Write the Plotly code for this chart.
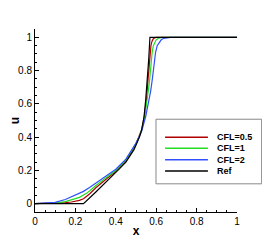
import plotly.graph_objects as go

# Reference solution
x_ref = [0.0, 0.24, 0.30, 0.35, 0.40, 0.42, 0.45, 0.47, 0.49, 0.503, 0.517, 0.528, 0.540, 0.548, 0.556, 0.563, 0.569, 1.0]
u_ref = [0.0, 0.0, 0.069, 0.127, 0.186, 0.212, 0.250, 0.285, 0.325, 0.360, 0.400, 0.444, 0.524, 0.624, 0.744, 0.870, 1.0, 1.0]

# CFL = 0.5
x_c05 = [0.0, 0.10, 0.15, 0.18, 0.20, 0.22, 0.24, 0.255, 0.27, 0.285, 0.30, 0.35, 0.40, 0.45, 0.47, 0.50, 0.515, 0.528, 0.541, 0.553, 0.560, 0.566, 0.570, 0.574, 0.579, 0.585, 0.592, 0.60, 1.0]
u_c05 = [0.0, 0.002, 0.006, 0.010, 0.014, 0.020, 0.030, 0.042, 0.058, 0.076, 0.094, 0.145, 0.194, 0.258, 0.295, 0.360, 0.400, 0.444, 0.524, 0.640, 0.750, 0.850, 0.910, 0.950, 0.975, 0.990, 0.997, 1.0, 1.0]

# CFL = 1
x_c1 = [0.0, 0.10, 0.15, 0.18, 0.20, 0.22, 0.24, 0.255, 0.27, 0.285, 0.30, 0.35, 0.40, 0.45, 0.47, 0.50, 0.515, 0.528, 0.543, 0.556, 0.561, 0.568, 0.574, 0.580, 0.586, 0.593, 0.60, 0.612, 0.627, 1.0]
u_c1 = [0.0, 0.004, 0.012, 0.021, 0.030, 0.038, 0.050, 0.062, 0.076, 0.092, 0.108, 0.155, 0.199, 0.262, 0.300, 0.362, 0.400, 0.444, 0.524, 0.624, 0.680, 0.750, 0.850, 0.910, 0.950, 0.972, 0.985, 0.995, 1.0, 1.0]

# CFL = 2
x_c2 = [0.0, 0.05, 0.10, 0.15, 0.20, 0.24, 0.27, 0.30, 0.35, 0.40, 0.45, 0.47, 0.50, 0.515, 0.529, 0.548, 0.566, 0.573, 0.581, 0.589, 0.597, 0.605, 0.615, 0.625, 0.637, 0.65, 0.67, 1.0]
u_c2 = [0.0, 0.002, 0.008, 0.025, 0.050, 0.074, 0.098, 0.124, 0.165, 0.207, 0.268, 0.305, 0.365, 0.400, 0.440, 0.524, 0.624, 0.680, 0.750, 0.850, 0.910, 0.950, 0.972, 0.985, 0.994, 0.998, 1.0, 1.0]

names = ["CFL=0.5", "CFL=1", "CFL=2", "Ref"]
colors = ["#b00000", "#22dd22", "#3050ff", "#000000"]
xs_all = [x_c05, x_c1, x_c2, x_ref]
us_all = [u_c05, u_c1, u_c2, u_ref]

FONT = "Liberation Sans, Arial"

fig = go.Figure()
for name, xs, us, col in zip(names, xs_all, us_all, colors):
    fig.add_trace(go.Scatter(x=xs, y=us, mode="lines", name=name,
                             line=dict(color=col, width=1.2), showlegend=False))

axis_common = dict(
    showline=True, linecolor="black", linewidth=1, mirror=False,
    ticks="inside", ticklen=4, tickcolor="black", tickwidth=1,
    showgrid=False, zeroline=False, automargin=False,
    tickfont=dict(family=FONT, size=10, color="black"),
    minor=dict(dtick=0.05, ticks="inside", ticklen=2, tickcolor="black", showgrid=False),
)

fig.update_xaxes(range=[0, 1], dtick=0.2, tick0=0,
                 title=dict(text="<b>x</b>", font=dict(family=FONT, size=12, color="black"), standoff=0),
                 **axis_common)
fig.update_yaxes(range=[-0.05, 1.05], dtick=0.2, tick0=0,
                 title=dict(text="<b>u</b>", font=dict(family=FONT, size=12, color="black"), standoff=2),
                 **axis_common)

# Manual legend (box, sample lines, labels) in paper coordinates
box = dict(x0=0.599, x1=1.122, y0=0.154, y1=0.507)
shapes = [dict(type="rect", xref="paper", yref="paper", layer="above",
               line=dict(color="#888888", width=1), fillcolor="white", **box)]
row_y = [0.409, 0.349, 0.285, 0.224]
annotations = []
for name, col, yy in zip(names, colors, row_y):
    shapes.append(dict(type="line", xref="paper", yref="paper", layer="above",
                       x0=0.644, x1=0.856, y0=yy, y1=yy, line=dict(color=col, width=1.5)))
    annotations.append(dict(xref="paper", yref="paper", x=0.89, y=yy, xanchor="left", yanchor="middle",
                            text="<b>%s</b>" % name, showarrow=False,
                            font=dict(family=FONT, size=9, color="black")))

# The page body adds an 8px offset; margins compensate so the plot area sits at px 35..237 / 29..212
fig.update_layout(
    width=270, height=240,
    margin=dict(l=27, r=41, t=21, b=36),
    paper_bgcolor="white", plot_bgcolor="white",
    showlegend=False,
    shapes=shapes, annotations=annotations,
)

fig.write_html("out.html")
